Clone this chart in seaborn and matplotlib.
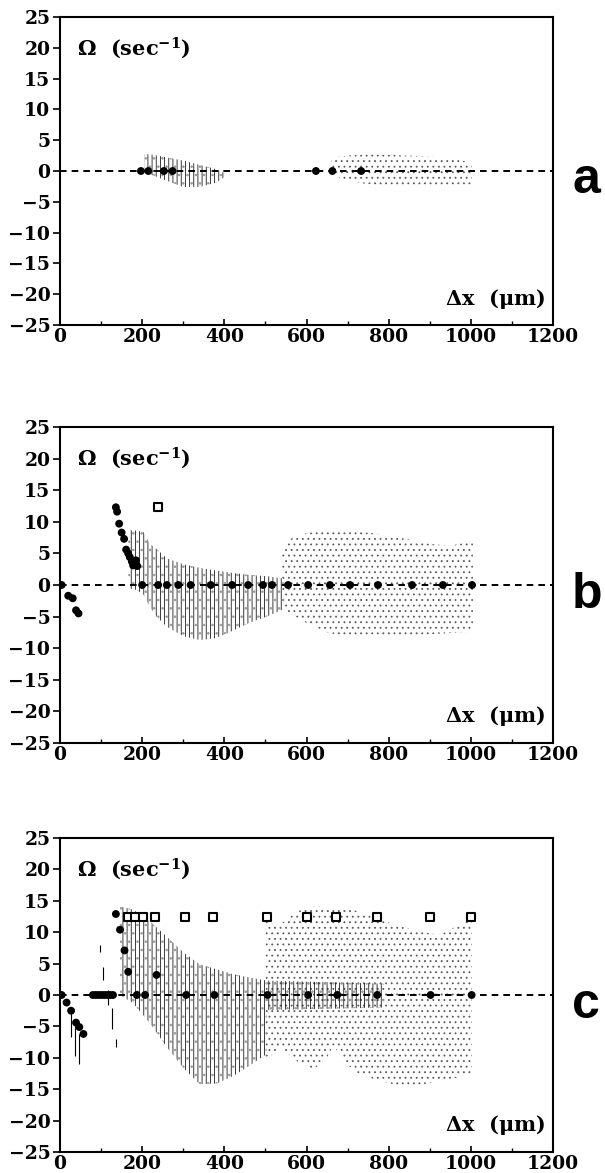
import numpy as np
import matplotlib
matplotlib.use("Agg")
import matplotlib.pyplot as plt
import seaborn as sns
import pandas as pd

# ---------------- data ----------------
x_ticks = [0, 200, 400, 600, 800, 1000, 1200]
y_ticks = [-25, -20, -15, -10, -5, 0, 5, 10, 15, 20, 25]
panel_labels = ["a", "b", "c"]

# panel a
a_dot_x = [197, 215, 253, 274, 623, 663, 733]
a_dot_y = [0, 0, 0, 0, 0, 0, 0]
a_solid_x = [205, 230, 260, 300, 340, 380, 400]
a_solid_up = [2.8, 2.6, 2.2, 1.7, 1.0, 0.3, -0.3]
a_solid_lo = [-0.2, -0.8, -1.6, -2.6, -2.6, -1.9, -1.0]
a_stip_x = [660, 700, 746, 793, 840, 887, 934, 1002]
a_stip_up = [2.2, 2.5, 2.7, 2.7, 2.5, 2.4, 2.2, 1.4]
a_stip_lo = [-0.5, -1.6, -2.1, -2.5, -2.6, -2.6, -2.4, -2.2]

# panel b
b_dot_x = [4, 20, 31, 39, 45, 136, 139, 144, 150, 156, 161, 166, 170, 175, 178, 185, 188,
           200, 239, 260, 288, 318, 367, 419, 458, 494, 516, 555, 604, 657, 706, 774, 857, 932, 1003]
b_dot_y = [0, -1.7, -2.1, -4.0, -4.5, 12.3, 11.6, 9.7, 8.3, 7.3, 5.6, 5.0, 4.4, 3.7, 3.1, 3.9, 3.0,
           0, 0, 0, 0, 0, 0, 0, 0, 0, 0, 0, 0, 0, 0, 0, 0, 0, 0]
b_sq_x = [239]
b_sq_y = [12.4]
b_solid_x = [166, 187, 203, 219, 235, 260, 300, 340, 380, 422, 460, 503, 545]
b_solid_up = [8.7, 8.6, 8.4, 6.5, 5.7, 4.2, 3.3, 2.7, 2.3, 1.9, 1.6, 1.4, 1.0]
b_solid_lo = [-0.5, -0.8, -1.5, -3.5, -5.0, -6.6, -8.1, -8.7, -8.4, -7.2, -6.0, -5.0, -3.8]
b_stip_x = [540, 560, 600, 650, 700, 750, 800, 850, 900, 950, 1005]
b_stip_up = [4.8, 7.3, 8.2, 8.7, 8.6, 8.3, 7.8, 7.2, 6.5, 6.2, 7.0]
b_stip_lo = [-3.5, -4.5, -6.0, -7.5, -8.2, -8.4, -8.3, -8.1, -7.8, -7.6, -7.4]

# panel c
c_dot_x = [4, 16, 27, 39, 47, 57,
           80, 87, 94, 101, 108, 115, 122, 129,
           136, 146, 157, 166, 187, 207, 235,
           307, 376, 505, 604, 675, 772, 902, 1002]
c_dot_y = [0, -1.2, -2.5, -4.4, -5.1, -6.2,
           0, 0, 0, 0, 0, 0, 0, 0,
           12.9, 10.4, 7.1, 3.7, 0, 0, 3.2,
           0, 0, 0, 0, 0, 0, 0, 0]
c_sq_x = [165, 183, 203, 231, 304, 373, 503, 602, 672, 772, 901, 1000]
c_sq_y = [12.4, 12.4, 12.4, 12.4, 12.4, 12.4, 12.4, 12.4, 12.4, 12.4, 12.4, 12.4]
c_seg_x = [26, 36, 47, 97, 105, 117, 126, 136]
c_seg_hi = [-2.1, -5.0, -6.2, 8.0, 4.4, 0.8, -2.1, -7.0]
c_seg_lo = [-6.7, -9.7, -11.0, 6.8, 2.4, -1.6, -5.4, -8.3]
c_solid_x = [146, 178, 219, 260, 300, 340, 381, 422, 460, 503]
c_solid_up = [14.1, 13.6, 11.7, 9.3, 6.8, 4.9, 4.1, 3.3, 2.8, 2.3]
c_solid_lo = [0.0, -1.3, -4.5, -8.3, -11.6, -14.2, -14.1, -12.9, -11.3, -9.4]
c_band_x = [503, 790]
c_band_up = [2.3, 1.8]
c_band_lo = [-2.4, -2.0]
c_stip_x = [500, 535, 576, 617, 650, 665, 698, 730, 779, 835, 860, 901, 925, 1002]
c_stip_up = [11.7, 11.2, 13.3, 14.1, 14.0, 14.0, 13.9, 13.2, 12.0, 10.8, 10.4, 9.8, 9.6, 12.2]
c_stip_lo = [-10.5, -8.3, -10.5, -11.9, -10.0, -8.0, -11.0, -12.7, -13.7, -14.6, -14.5, -14.0, -13.7, -12.7]

# ---------------- style ----------------
sns.set_style("ticks")
plt.rcParams['font.family'] = ['DejaVu Serif', 'DejaVu Sans']
plt.rcParams['font.weight'] = 'bold'
plt.rcParams['mathtext.fontset'] = 'dejavuserif'
plt.rcParams['mathtext.default'] = 'bf'
plt.rcParams['hatch.linewidth'] = 0.6
for k in ['text.color', 'axes.labelcolor', 'xtick.color', 'ytick.color', 'axes.edgecolor']:
    plt.rcParams[k] = 'black'

fig = plt.figure(figsize=(6.05, 11.73), dpi=100)
W, H = 605.0, 1173.0
left, right = 60, 553
tops = [17, 427, 838]
bottoms = [325, 743, 1152]


def region(ax, x, up, lo, hatch, color):
    x = np.asarray(x, float)
    xs = np.concatenate([x, x[::-1]])
    ys = np.concatenate([np.asarray(up, float), np.asarray(lo, float)[::-1]])
    p = ax.fill(xs, ys, facecolor='none', edgecolor=color, hatch=hatch, linewidth=0, zorder=1)[0]
    return p


panels = [
    dict(dx=a_dot_x, dy=a_dot_y, sx=[], sy=[],
         solid=[(a_solid_x, a_solid_up, a_solid_lo)],
         stip=[(a_stip_x, a_stip_up, a_stip_lo)], seg=None),
    dict(dx=b_dot_x, dy=b_dot_y, sx=b_sq_x, sy=b_sq_y,
         solid=[(b_solid_x, b_solid_up, b_solid_lo)],
         stip=[(b_stip_x, b_stip_up, b_stip_lo)], seg=None),
    dict(dx=c_dot_x, dy=c_dot_y, sx=c_sq_x, sy=c_sq_y,
         solid=[(c_solid_x, c_solid_up, c_solid_lo), (c_band_x, c_band_up, c_band_lo)],
         stip=[(c_stip_x, c_stip_up, c_stip_lo)],
         seg=(c_seg_x, c_seg_lo, c_seg_hi)),
]

for i, pd_ in enumerate(panels):
    ax = fig.add_axes([left / W, 1 - bottoms[i] / H, (right - left) / W, (bottoms[i] - tops[i]) / H])
    for (x, up, lo) in pd_['stip']:
        region(ax, x, up, lo, '...', '0.35')
    for (x, up, lo) in pd_['solid']:
        region(ax, x, up, lo, '||||', '0.1')
        region(ax, x, up, lo, '..', '0.6')
    if pd_['seg'] is not None:
        sx, slo, shi = pd_['seg']
        ax.vlines(sx, slo, shi, color='black', lw=0.8, zorder=2)
    ax.axhline(0, color='black', lw=1.4, ls=(0, (3.4, 2.6)), zorder=3)
    df = pd.DataFrame({'x': pd_['dx'], 'y': pd_['dy']})
    sns.scatterplot(data=df, x='x', y='y', ax=ax, color='black', s=32,
                    edgecolor='none', zorder=5, legend=False)
    if len(pd_['sx']):
        dfs = pd.DataFrame({'x': pd_['sx'], 'y': pd_['sy']})
        sns.scatterplot(data=dfs, x='x', y='y', ax=ax, marker='s', s=30,
                        facecolor='white', edgecolor='black', linewidth=1.5,
                        zorder=6, legend=False)
    ax.set_xlim(0, 1200)
    ax.set_ylim(-25, 25)
    ax.set_xticks(x_ticks)
    ax.set_xticks([100, 300, 500, 700, 900, 1100], minor=True)
    ax.set_yticks(y_ticks)
    ax.set_xlabel('')
    ax.set_ylabel('')
    ax.tick_params(axis='x', direction='in', length=4, width=1.2, pad=2, labelsize=13.5)
    ax.tick_params(axis='x', which='minor', direction='in', length=3, width=1.0)
    ax.tick_params(axis='y', direction='out', length=5, width=1.2, pad=2, labelsize=13.5)
    for lab in ax.get_xticklabels() + ax.get_yticklabels():
        lab.set_fontweight('bold')
    for sp in ax.spines.values():
        sp.set_visible(True)
        sp.set_linewidth(1.5)
        sp.set_color('black')
    ax.text(0.035, 0.9, r'Ω  (sec$^{-1}$)', transform=ax.transAxes, fontsize=15,
            fontweight='bold', ha='left', va='center')
    ax.text(0.985, 0.085, r'Δx  ($\mu$m)', transform=ax.transAxes, fontsize=15,
            fontweight='bold', ha='right', va='center')
    tr = matplotlib.transforms.blended_transform_factory(fig.transFigure, ax.transData)
    ax.text(572 / W, -3.6, panel_labels[i], transform=tr, fontsize=36,
            family=['Liberation Sans', 'DejaVu Sans'], fontweight='bold',
            ha='left', va='baseline', clip_on=False)

fig.savefig('out.png', dpi=100)
